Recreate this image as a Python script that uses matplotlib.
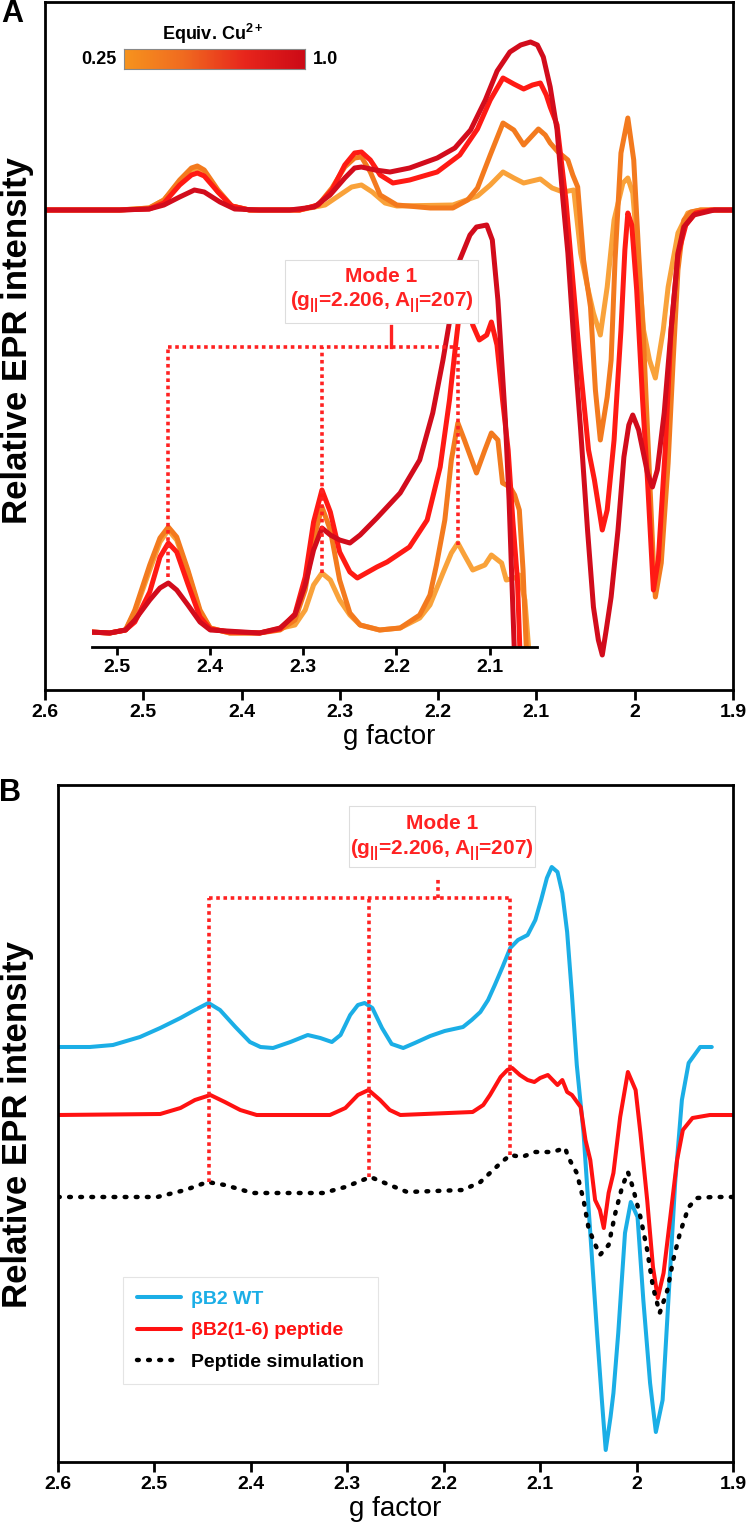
import numpy as np
import matplotlib
matplotlib.use('Agg')
import matplotlib.pyplot as plt
from matplotlib.colors import LinearSegmentedColormap
from matplotlib.patches import Rectangle

plt.rcParams['font.family'] = ['Liberation Sans', 'DejaVu Sans']
plt.rcParams['font.weight'] = 'bold'
plt.rcParams['mathtext.fontset'] = 'custom'
plt.rcParams['mathtext.rm'] = 'Liberation Sans:bold'
plt.rcParams['mathtext.default'] = 'rm'

# ---- data: panel A, full spectra (g, relative intensity) ----
cu_equiv = [0.25, 0.5, 0.75, 1.0]
cu_colors = ['#F9A23A', '#F37A1E', '#FF1A14', '#D20C1C']

a_025 = np.array([(2.600, 0), (2.524, 0), (2.494, 2), (2.479, 10), (2.463, 28), (2.451, 40), (2.445, 42),
                  (2.438, 38), (2.424, 18), (2.410, 4), (2.392, 0), (2.341, 0), (2.315, 5), (2.300, 15),
                  (2.288, 23), (2.278, 25), (2.267, 18), (2.254, 7), (2.242, 4), (2.185, 5), (2.160, 14),
                  (2.147, 25), (2.134, 38), (2.123, 32), (2.113, 27), (2.096, 31), (2.084, 22), (2.073, 18),
                  (2.062, 20), (2.055, -43), (2.048, -77), (2.042, -103), (2.035, -125), (2.028, -77),
                  (2.021, -10), (2.012, 27), (2.007, 32), (2.002, 17), (1.997, -43), (1.991, -120),
                  (1.985, -150), (1.979, -168), (1.971, -120), (1.966, -77), (1.956, -23), (1.946, -3),
                  (1.933, 0), (1.900, 0)])
a_050 = np.array([(2.600, 0), (2.524, 0), (2.494, 2), (2.479, 10), (2.463, 30), (2.451, 42), (2.445, 44),
                  (2.438, 40), (2.424, 20), (2.410, 4), (2.392, 0), (2.341, 0), (2.322, 5), (2.308, 22),
                  (2.295, 43), (2.285, 52), (2.278, 53), (2.269, 38), (2.259, 15), (2.242, 5), (2.208, 2),
                  (2.185, 2), (2.170, 10), (2.160, 22), (2.147, 55), (2.134, 87), (2.123, 80), (2.113, 65),
                  (2.098, 81), (2.091, 75), (2.086, 67), (2.078, 58), (2.068, 50), (2.063, 35), (2.058, 23),
                  (2.052, -50), (2.045, -97), (2.040, -180), (2.035, -230), (2.028, -187), (2.024, -150),
                  (2.020, -50), (2.014, 57), (2.007, 92), (2.001, 50), (1.996, -43), (1.991, -130),
                  (1.987, -220), (1.981, -353), (1.979, -387), (1.973, -353), (1.966, -253), (1.961, -153),
                  (1.956, -60), (1.950, -10), (1.943, -2), (1.933, 0), (1.900, 0)])
a_075 = np.array([(2.600, 0), (2.524, 0), (2.494, 1), (2.479, 7), (2.463, 25), (2.451, 35), (2.445, 37),
                  (2.438, 34), (2.424, 18), (2.410, 4), (2.392, 0), (2.341, 0), (2.322, 5), (2.308, 20),
                  (2.295, 45), (2.285, 57), (2.278, 58), (2.269, 50), (2.259, 35), (2.246, 27), (2.229, 30),
                  (2.201, 38), (2.178, 55), (2.160, 81), (2.147, 110), (2.134, 132), (2.123, 126),
                  (2.113, 121), (2.104, 125), (2.096, 127), (2.090, 115), (2.086, 103), (2.079, 85),
                  (2.070, 10), (2.063, -70), (2.055, -160), (2.047, -240), (2.041, -270), (2.037, -295),
                  (2.033, -320), (2.028, -300), (2.021, -230), (2.014, -120), (2.010, -40), (2.007, -3),
                  (2.003, -15), (1.998, -80), (1.992, -190), (1.987, -270), (1.981, -380), (1.976, -350),
                  (1.969, -240), (1.963, -120), (1.956, -45), (1.948, -15), (1.938, -3), (1.922, 0),
                  (1.900, 0)])
a_100 = np.array([(2.600, 0), (2.565, 0), (2.524, 0), (2.494, 1), (2.479, 5), (2.463, 13), (2.448, 20),
                  (2.438, 18), (2.422, 8), (2.407, 1), (2.382, 0), (2.351, 0), (2.326, 3), (2.310, 15),
                  (2.295, 32), (2.285, 42), (2.278, 43), (2.264, 40), (2.249, 38), (2.229, 42), (2.201, 52),
                  (2.183, 62), (2.167, 80), (2.152, 110), (2.140, 139), (2.127, 158), (2.116, 165),
                  (2.106, 168), (2.099, 165), (2.093, 153), (2.086, 123), (2.079, 80), (2.073, 10),
                  (2.068, -43), (2.062, -130), (2.055, -220), (2.048, -320), (2.042, -397), (2.037, -430),
                  (2.033, -445), (2.029, -420), (2.024, -387), (2.017, -320), (2.011, -247), (2.006, -215),
                  (2.002, -205), (1.996, -220), (1.987, -263), (1.982, -277), (1.977, -260), (1.970, -203),
                  (1.963, -120), (1.956, -43), (1.950, -17), (1.940, -5), (1.919, 0), (1.900, 0)])

# ---- data: panel A inset (expanded g|| region) ----
i_025 = np.array([(2.529, 0), (2.508, -1), (2.491, 2), (2.481, 20), (2.465, 62), (2.454, 90), (2.445, 102),
                  (2.436, 92), (2.424, 60), (2.411, 20), (2.400, 4), (2.379, -1), (2.347, -1), (2.309, 7),
                  (2.298, 22), (2.289, 47), (2.280, 59), (2.271, 52), (2.261, 32), (2.250, 17), (2.239, 7),
                  (2.218, 2), (2.196, 4), (2.175, 14), (2.164, 27), (2.150, 59), (2.141, 79), (2.134, 89),
                  (2.127, 77), (2.118, 62), (2.105, 67), (2.098, 77), (2.087, 69), (2.082, 52), (2.073, 54),
                  (2.068, 57), (2.062, 32), (2.057, -28)])
i_050 = np.array([(2.529, 0), (2.508, -1), (2.491, 2), (2.481, 22), (2.465, 67), (2.454, 94), (2.445, 105),
                  (2.436, 95), (2.424, 62), (2.411, 22), (2.400, 4), (2.379, -1), (2.347, -1), (2.325, 2),
                  (2.309, 12), (2.298, 42), (2.289, 92), (2.280, 125), (2.271, 102), (2.261, 52), (2.250, 19),
                  (2.239, 7), (2.218, 2), (2.196, 4), (2.175, 17), (2.164, 37), (2.157, 67), (2.148, 112),
                  (2.141, 172), (2.134, 209), (2.127, 192), (2.114, 159), (2.105, 182), (2.098, 199),
                  (2.091, 192), (2.086, 149), (2.078, 145), (2.073, 137), (2.068, 122), (2.064, 62),
                  (2.060, -28)])
i_075 = np.array([(2.529, 0), (2.508, -1), (2.491, 2), (2.481, 10), (2.465, 40), (2.454, 75), (2.445, 89),
                  (2.436, 80), (2.424, 48), (2.411, 15), (2.400, 3), (2.379, 0), (2.347, -1), (2.325, 3),
                  (2.309, 18), (2.298, 55), (2.289, 110), (2.280, 142), (2.271, 120), (2.261, 80),
                  (2.250, 60), (2.242, 54), (2.221, 65), (2.210, 70), (2.186, 85), (2.167, 112),
                  (2.153, 165), (2.143, 232), (2.137, 282), (2.132, 322), (2.124, 332), (2.118, 307),
                  (2.111, 292), (2.103, 297), (2.098, 310), (2.092, 287), (2.086, 232), (2.080, 182),
                  (2.075, 112), (2.070, 52), (2.067, -28)])
i_100 = np.array([(2.529, 0), (2.508, -1), (2.491, 2), (2.481, 12), (2.465, 32), (2.454, 44), (2.445, 49),
                  (2.436, 42), (2.424, 27), (2.411, 10), (2.400, 2), (2.347, -1), (2.325, 4), (2.309, 17),
                  (2.298, 47), (2.289, 82), (2.280, 104), (2.271, 97), (2.261, 92), (2.250, 89), (2.239, 97),
                  (2.221, 114), (2.196, 139), (2.175, 172), (2.161, 219), (2.150, 272), (2.139, 332),
                  (2.132, 372), (2.121, 397), (2.114, 405), (2.103, 407), (2.097, 392), (2.091, 332),
                  (2.087, 272), (2.083, 212), (2.079, 132), (2.076, 52), (2.073, -28)])

# ---- data: panel B ----
b_wt = np.array([(2.600, 150), (2.567, 150), (2.543, 152), (2.515, 160), (2.494, 169), (2.473, 179),
                 (2.458, 187), (2.444, 194), (2.432, 187), (2.416, 170), (2.401, 155), (2.390, 150),
                 (2.377, 149), (2.359, 155), (2.341, 162), (2.328, 159), (2.316, 155), (2.307, 162),
                 (2.297, 182), (2.289, 192), (2.282, 194), (2.274, 189), (2.264, 169), (2.254, 153),
                 (2.242, 149), (2.230, 154), (2.214, 161), (2.199, 166), (2.180, 170), (2.171, 177),
                 (2.162, 185), (2.154, 197), (2.147, 212), (2.139, 230), (2.131, 249), (2.123, 257),
                 (2.113, 262), (2.105, 277), (2.099, 297), (2.093, 319), (2.088, 330), (2.082, 325),
                 (2.077, 304), (2.072, 265), (2.067, 202), (2.062, 132), (2.055, 64), (2.048, -36),
                 (2.041, -136), (2.036, -203), (2.032, -253), (2.027, -220), (2.024, -196), (2.019, -136),
                 (2.012, -36), (2.006, -5), (1.999, -20), (1.993, -103), (1.986, -186), (1.980, -235),
                 (1.973, -203), (1.967, -103), (1.960, 14), (1.953, 97), (1.946, 134), (1.934, 150),
                 (1.922, 150)])
b_pep = np.array([(2.600, 82), (2.494, 83), (2.473, 89), (2.458, 97), (2.442, 102), (2.427, 95),
                  (2.411, 87), (2.394, 82), (2.318, 82), (2.302, 89), (2.289, 102), (2.278, 107),
                  (2.266, 97), (2.256, 87), (2.245, 82), (2.170, 85), (2.159, 92), (2.152, 102),
                  (2.141, 120), (2.134, 127), (2.129, 129), (2.121, 122), (2.113, 117), (2.106, 115),
                  (2.100, 119), (2.092, 122), (2.090, 120), (2.082, 112), (2.077, 117), (2.072, 105),
                  (2.067, 102), (2.058, 90), (2.053, 57), (2.048, 37), (2.043, -3), (2.038, -13),
                  (2.034, -31), (2.029, 4), (2.024, 24), (2.017, 80), (2.009, 125), (2.001, 107),
                  (1.996, 64), (1.989, -3), (1.983, -70), (1.978, -101), (1.972, -76), (1.965, -20),
                  (1.958, 37), (1.952, 67), (1.942, 79), (1.924, 82), (1.900, 82)])
b_sim = np.array([(2.600, 0), (2.497, 0), (2.468, 7), (2.445, 15), (2.427, 12), (2.398, 4), (2.325, 4),
                  (2.302, 10), (2.276, 20), (2.256, 12), (2.238, 5), (2.180, 7), (2.162, 15), (2.141, 34),
                  (2.131, 42), (2.119, 40), (2.105, 45), (2.087, 45), (2.074, 49), (2.071, 40), (2.062, 24),
                  (2.055, -3), (2.050, -30), (2.045, -43), (2.038, -58), (2.029, -48), (2.022, -16),
                  (2.015, 10), (2.009, 25), (2.004, 10), (1.996, -20), (1.989, -53), (1.983, -90),
                  (1.976, -116), (1.968, -93), (1.962, -63), (1.955, -36), (1.946, -10), (1.937, -1),
                  (1.921, 0), (1.900, 0)])

# Mode 1 hyperfine positions and g||
mode1_inset = [2.445, 2.280, 2.134]
mode1_inset_tops = [55, 59, 87]
mode1_b = [2.443, 2.278, 2.131]
mode1_b_tops = [15, 20, 42]
g_par = 2.206

g_ticks = [2.6, 2.5, 2.4, 2.3, 2.2, 2.1, 2.0, 1.9]
g_labels = ['2.6', '2.5', '2.4', '2.3', '2.2', '2.1', '2', '1.9']
inset_ticks = [2.5, 2.4, 2.3, 2.2, 2.1]
inset_labels = ['2.5', '2.4', '2.3', '2.2', '2.1']

RED = '#FF2222'
BLUE = '#1BAEE6'

W, H = 751, 1540
fig = plt.figure(figsize=(W / 100, H / 100), dpi=100)


def px_rect(x0, y0, x1, y1):
    return [x0 / W, 1 - y1 / H, (x1 - x0) / W, (y1 - y0) / H]


def style_axis(ax):
    for s in ax.spines.values():
        s.set_linewidth(2)
    ax.set_yticks([])
    ax.set_xticks(g_ticks)
    ax.set_xticklabels(g_labels)
    ax.tick_params(axis='x', direction='out', length=7, width=2, labelsize=14, pad=3)
    ax.set_xlim(2.6, 1.9)
    ax.set_xlabel('g factor', fontsize=20, labelpad=2)


def mode_box(x0, y0, x1, y1, y_l1, y_l2):
    fig.add_artist(Rectangle((x0 / W, 1 - y1 / H), (x1 - x0) / W, (y1 - y0) / H,
                             transform=fig.transFigure, facecolor='white',
                             edgecolor='#DDDDDD', lw=0.8, zorder=5))
    xc = (x0 + x1) / 2 / W
    fig.text(xc, 1 - y_l1 / H, 'Mode 1', ha='center', va='baseline', color=RED,
             fontsize=15, zorder=6)
    fig.text(xc, 1 - y_l2 / H, r'(g$_{||}$=2.206, A$_{||}$=207)', ha='center',
             va='baseline', color=RED, fontsize=15, zorder=6)


dots = (0, (1, 1))
lkw = dict(solid_capstyle='round', solid_joinstyle='round')

# ---------------- panel A ----------------
ax_a = fig.add_axes(px_rect(45, 2, 733, 690))
style_axis(ax_a)
ax_a.set_ylim(-480, 208)
for data, c in zip([a_025, a_050, a_075, a_100], cu_colors):
    ax_a.plot(data[:, 0], data[:, 1], color=c, lw=3.6, **lkw)

ax_in = fig.add_axes(px_rect(92, 215, 537, 647))
ax_in.patch.set_alpha(0)
for s in ['top', 'left', 'right']:
    ax_in.spines[s].set_visible(False)
ax_in.spines['bottom'].set_linewidth(2)
ax_in.set_xlim(2.527, 2.049)
ax_in.set_ylim(-15, 417)
ax_in.set_yticks([])
ax_in.set_xticks(inset_ticks)
ax_in.set_xticklabels(inset_labels)
ax_in.tick_params(axis='x', direction='out', length=6, width=2, labelsize=14, pad=3)
for data, c in zip([i_025, i_050, i_075, i_100], cu_colors):
    ax_in.plot(data[:, 0], data[:, 1], color=c, lw=3.6, **lkw)
for g, top in zip(mode1_inset, mode1_inset_tops):
    ax_in.plot([g, g], [top, 285], color=RED, lw=2.6, ls=dots)
ax_in.plot([mode1_inset[0], mode1_inset[-1]], [285, 285], color=RED, lw=2.6, ls=dots)
ax_in.plot([g_par, g_par], [285, 306], color=RED, lw=2.4)

mode_box(285, 260, 478, 323, 282, 307)

# colour scale for Cu2+ equivalents
cmap_cu = LinearSegmentedColormap.from_list('cu', ['#F7941E', '#F06A20', '#E8261C', '#CC0A16'])
cax = fig.add_axes(px_rect(124, 49, 305, 69))
cax.imshow(np.linspace(0, 1, 256)[None, :], aspect='auto', cmap=cmap_cu,
           extent=[cu_equiv[0], cu_equiv[-1], 0, 1])
cax.set_xticks([])
cax.set_yticks([])
for s in cax.spines.values():
    s.set_linewidth(0.8)
    s.set_color('#888888')
fig.text(117 / W, 1 - 59 / H, '0.25', ha='right', va='center', fontsize=13)
fig.text(313 / W, 1 - 59 / H, '1.0', ha='left', va='center', fontsize=13)
fig.text(213 / W, 1 - 34 / H, 'Equiv. Cu$^{2+}$', ha='center', va='center', fontsize=13)

# ---------------- panel B ----------------
ax_b = fig.add_axes(px_rect(58, 785, 733, 1462))
style_axis(ax_b)
ax_b.set_ylim(-265, 412)
l_wt, = ax_b.plot(b_wt[:, 0], b_wt[:, 1], color=BLUE, lw=2.9, label='βB2 WT', **lkw)
l_pep, = ax_b.plot(b_pep[:, 0], b_pep[:, 1], color='#FF1111', lw=2.9, label='βB2(1-6) peptide', **lkw)
l_sim, = ax_b.plot(b_sim[:, 0], b_sim[:, 1], color='black', lw=3.2, ls=(0, (0.4, 2.1)),
                   dash_capstyle='round', label='Peptide simulation')
for g, top in zip(mode1_b, mode1_b_tops):
    ax_b.plot([g, g], [top, 299], color=RED, lw=2.6, ls=dots)
ax_b.plot([mode1_b[0], mode1_b[-1]], [299, 299], color=RED, lw=2.6, ls=dots)
ax_b.plot([g_par, g_par], [299, 320], color=RED, lw=2.6, ls=dots)

leg = ax_b.legend(handles=[l_wt, l_pep, l_sim], loc='upper left',
                  bbox_to_anchor=(123 / W, 1 - 1277 / H), bbox_transform=fig.transFigure,
                  borderaxespad=0, fancybox=False, edgecolor='#E4E4E4', framealpha=1,
                  fontsize=14, handlelength=2.3, handletextpad=0.5, labelspacing=0.7,
                  borderpad=0.7, labelcolor='linecolor')
leg.get_frame().set_linewidth(0.8)

mode_box(349, 806, 535, 867, 829, 855)

# axis titles and panel letters
fig.text(18 / W, 1 - 340 / H, 'Relative EPR intensity', rotation=90, ha='center', va='center', fontsize=25)
fig.text(18 / W, 1 - 1125 / H, 'Relative EPR intensity', rotation=90, ha='center', va='center', fontsize=25)
fig.text(12 / W, 1 - 14 / H, 'A', ha='center', va='center', fontsize=22)
fig.text(10 / W, 1 - 793 / H, 'B', ha='center', va='center', fontsize=22)

fig.savefig('out.png', dpi=100)
